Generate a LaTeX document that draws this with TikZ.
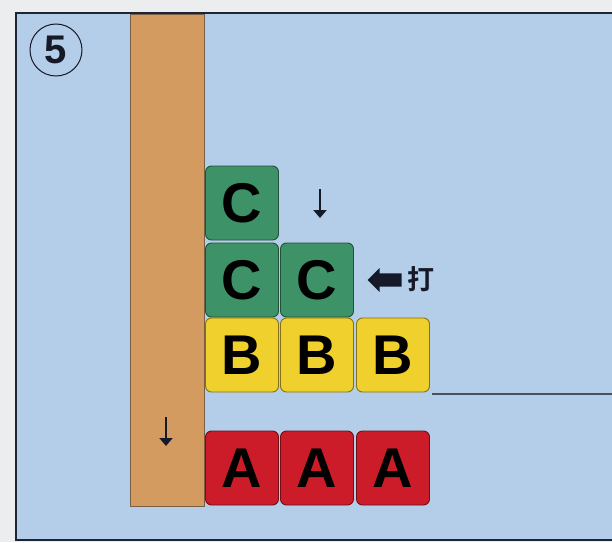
\documentclass[tikz,border=0pt]{standalone}
\usepackage{fontspec}
\setmainfont{Liberation Sans}
\newfontfamily\cjk{Noto Sans CJK SC}[BoldFont=* Bold]
\usetikzlibrary{shapes.arrows,arrows.meta}
\definecolor{paper}{RGB}{236,237,238}
\definecolor{sky}{RGB}{180,205,232}
\definecolor{frameline}{RGB}{30,36,52}
\definecolor{pole}{RGB}{212,155,96}
\definecolor{poleline}{RGB}{120,95,70}
\definecolor{green}{RGB}{62,146,104}
\definecolor{yellow}{RGB}{240,208,44}
\definecolor{red}{RGB}{204,28,42}
\definecolor{ink}{RGB}{22,26,40}
\tikzset{
  block/.style={draw=#1!55!black, line width=0.9pt, fill=#1, rounded corners=6pt,
    minimum width=73pt, minimum height=74pt, inner sep=0pt,
    font=\fontsize{56}{56}\selectfont\bfseries, text=black},
  smallarrow/.style={draw=ink, line width=2.2pt, -{Triangle[length=8pt,width=13pt]}},
  fatarrow/.style={single arrow, fill=ink, draw=none, shape border rotate=180,
    minimum height=34pt, minimum width=24pt, single arrow head extend=5pt,
    inner sep=6pt}
}
\begin{document}
\begin{tikzpicture}[x=1pt,y=1pt]
  \useasboundingbox (0,0) rectangle (612,542);
  % paper and framed panel
  \fill[paper] (0,0) rectangle (612,542);
  \draw[frameline, line width=2.4pt, fill=sky] (16,2) rectangle (630,529);
  % upright pole
  \draw[poleline, line width=0.8pt, fill=pole] (130,36) rectangle (204,528);
  % ground line on the right
  \coordinate (g1) at (432,148);
  \coordinate (g2) at (614,148);
  \draw[frameline!80, line width=1.5pt] (g1) -- (g2);
  % panel number
  \node[draw=ink, circle, line width=1pt, minimum size=52pt, inner sep=0pt,
        font=\fontsize{40}{40}\selectfont\bfseries, text=ink] (num) at (56,492) {5};
  % bottom row
  \node[block=red] (a1) at (242,74) {A};
  \node[block=red] (a2) at (317,74) {A};
  \node[block=red] (a3) at (393,74) {A};
  % middle row
  \node[block=yellow] (b1) at (242,187) {B};
  \node[block=yellow] (b2) at (317,187) {B};
  \node[block=yellow] (b3) at (393,187) {B};
  % upper rows
  \node[block=green] (c1) at (242,262) {C};
  \node[block=green] (c2) at (317,262) {C};
  \node[block=green] (c3) at (242,339) {C};
  % motion marks
  \coordinate (d1s) at (320,353);
  \coordinate (d1e) at (320,324);
  \draw[smallarrow] (d1s) -- (d1e);
  \coordinate (d2s) at (166,125);
  \coordinate (d2e) at (166,96);
  \draw[smallarrow] (d2s) -- (d2e);
  \node[fatarrow] (hit) at (388,262) {};
  \node[font=\cjk\fontsize{27}{27}\selectfont\bfseries, text=ink, anchor=west] (da) at (404,263) {打};
\end{tikzpicture}
\end{document}
